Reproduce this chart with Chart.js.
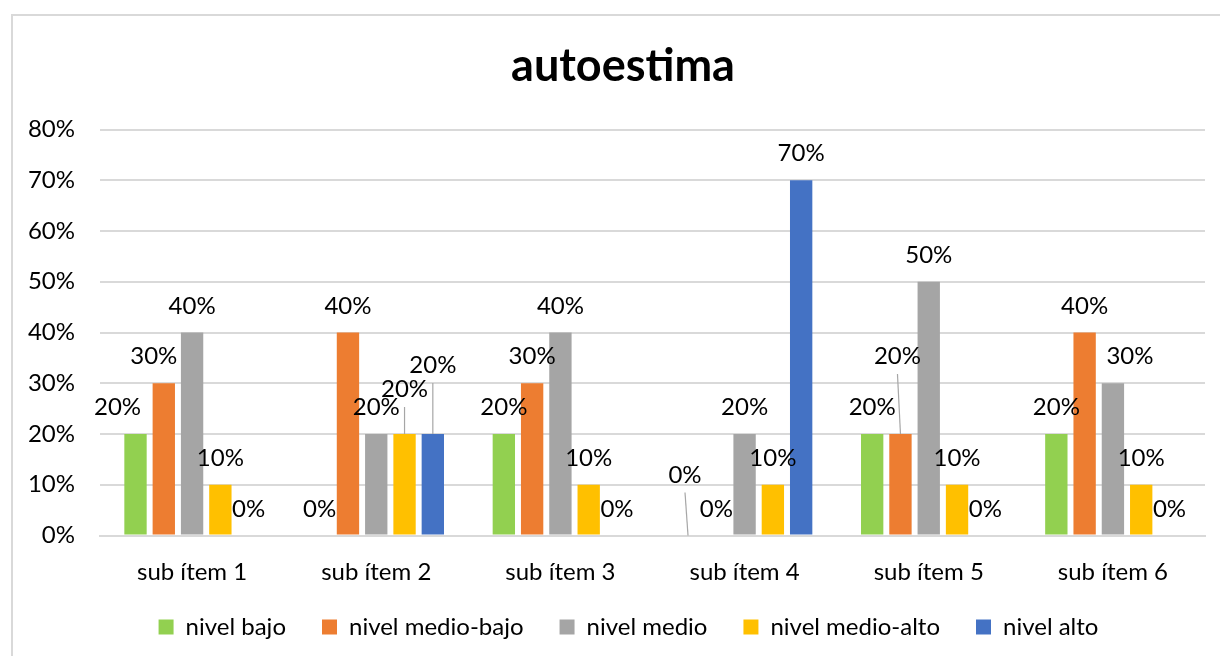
<!DOCTYPE html>
<html>
<head>
<meta charset="utf-8">
<script src="https://cdn.jsdelivr.net/npm/chart.js@4.4.1/dist/chart.umd.min.js"></script>
<style>
  html, body { margin: 0; padding: 0; background: #ffffff; }
  #wrap { width: 1220px; height: 656px; position: relative; }
</style>
</head>
<body>
<div id="wrap"><canvas id="chart" width="1220" height="656"></canvas></div>
<script>
// Categories and series (percent values)
const categories = ['sub ítem 1', 'sub ítem 2', 'sub ítem 3', 'sub ítem 4', 'sub ítem 5', 'sub ítem 6'];
const seriesNames = ['nivel bajo', 'nivel medio-bajo', 'nivel medio', 'nivel medio-alto', 'nivel alto'];
const nivelBajo      = [20,  0, 20,  0, 20, 20];
const nivelMedioBajo = [30, 40, 30,  0, 20, 40];
const nivelMedio     = [40, 20, 40, 20, 50, 30];
const nivelMedioAlto = [10, 20, 10, 10, 10, 10];
const nivelAlto      = [ 0, 20,  0, 70,  0,  0];
const yMin = 0, yMax = 80, yStep = 10;

const seriesColors = ['#92D050', '#ED7D31', '#A5A5A5', '#FFC000', '#4472C4'];
const FONT = 'Lato, "Open Sans", sans-serif';

// Hand-placed label offsets ("dataset,index") where labels would collide
const labelNudges = {
  '0,0': { dx: -18, dy: 0 },
  '1,0': { dx: -10, dy: 0 },
  '3,1': { dx: 0, dy: -18, leader: true },
  '4,1': { dx: 0, dy: -42, leader: true },
  '0,3': { dx: -3, dy: -34, leader: true },
  '1,4': { dx: -3, dy: -51, leader: true },
  '2,5': { dx: 17, dy: 0 }
};

const seriesValues = [nivelBajo, nivelMedioBajo, nivelMedio, nivelMedioAlto, nivelAlto];

// Outer frame of the chart object
const framePlugin = {
  id: 'frame',
  beforeDraw(chart) {
    const ctx = chart.ctx;
    ctx.save();
    ctx.fillStyle = '#ffffff';
    ctx.fillRect(0, 0, chart.width, chart.height);
    ctx.strokeStyle = '#d9d9d9';
    ctx.lineWidth = 2;
    ctx.beginPath();
    ctx.moveTo(12, chart.height + 2);
    ctx.lineTo(12, 15);
    ctx.lineTo(chart.width + 2, 15);
    ctx.stroke();
    ctx.restore();
  }
};

// The frame extends past the right edge, so title and legend sit right of the plot centre;
// the category axis keeps a compact box but its labels may draw below it
const layoutTweaks = {
  id: 'layoutTweaks',
  afterLayout(chart) {
    if (chart.titleBlock) { chart.titleBlock.left += 14.5; chart.titleBlock.right += 14.5; }
    if (chart.legend) { chart.legend.left += 20; chart.legend.right += 20; }
    if (chart.scales.x) { chart.scales.x.bottom = chart.height; }
  }
};

// Value labels above each bar, with optional leader lines
const valueLabels = {
  id: 'valueLabels',
  afterDatasetsDraw(chart) {
    const ctx = chart.ctx;
    ctx.save();
    ctx.font = '24px ' + FONT;
    ctx.textAlign = 'center';
    ctx.textBaseline = 'alphabetic';
    chart.data.datasets.forEach((ds, di) => {
      const meta = chart.getDatasetMeta(di);
      meta.data.forEach((bar, i) => {
        const v = ds.data[i];
        const n = labelNudges[di + ',' + i] || { dx: 0, dy: 0 };
        const x = bar.x + n.dx;
        const y = bar.y - 19 + n.dy;
        if (n.leader) {
          ctx.strokeStyle = '#a6a6a6';
          ctx.lineWidth = 1.2;
          ctx.beginPath();
          ctx.moveTo(x, y + 10);
          ctx.lineTo(bar.x, bar.y);
          ctx.stroke();
        }
        ctx.fillStyle = '#000000';
        ctx.fillText(v + '%', x, y);
      });
    });
    ctx.restore();
  }
};

new Chart(document.getElementById('chart'), {
  type: 'bar',
  data: {
    labels: categories,
    datasets: seriesNames.map((name, k) => ({
      label: name,
      data: seriesValues[k],
      backgroundColor: seriesColors[k],
      borderWidth: 0,
      categoryPercentage: 0.768,
      barPercentage: 0.79
    }))
  },
  options: {
    responsive: false,
    devicePixelRatio: 1,
    animation: false,
    layout: { padding: { left: 12, right: 15, top: 15, bottom: 7 } },
    plugins: {
      title: {
        display: true,
        text: 'autoestima',
        color: '#000000',
        font: { family: FONT, size: 45, weight: 'bold' },
        padding: { top: 24, bottom: 36.5 }
      },
      legend: {
        position: 'bottom',
        labels: {
          boxWidth: 15,
          boxHeight: 15,
          padding: 36,
          color: '#000000',
          font: { family: FONT, size: 24 }
        }
      },
      tooltip: { enabled: false }
    },
    scales: {
      x: {
        afterFit(scale) { scale.height = 43.5; },
        grid: { display: false, drawTicks: false },
        border: { display: true, color: '#d9d9d9', width: 2 },
        ticks: { color: '#000000', font: { family: FONT, size: 24 }, padding: 22 }
      },
      y: {
        min: yMin,
        max: yMax,
        afterFit(scale) { scale.width = 88; },
        grid: { color: '#d9d9d9', lineWidth: 2, drawTicks: false },
        border: { display: false },
        ticks: {
          stepSize: yStep,
          padding: 25,
          color: '#000000',
          font: { family: FONT, size: 24 },
          callback: (v) => v + '%'
        }
      }
    }
  },
  plugins: [framePlugin, layoutTweaks, valueLabels]
});
</script>
</body>
</html>
